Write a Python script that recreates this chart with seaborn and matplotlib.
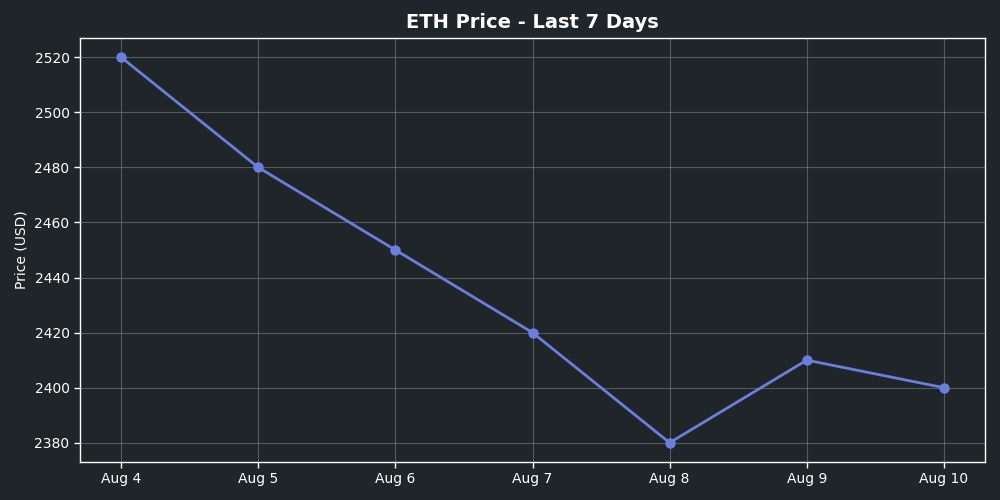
import matplotlib
matplotlib.use("Agg")
import matplotlib.pyplot as plt
import seaborn as sns
import pandas as pd

dates = ["Aug 4", "Aug 5", "Aug 6", "Aug 7", "Aug 8", "Aug 9", "Aug 10"]
prices = [2520, 2480, 2450, 2420, 2380, 2410, 2400]

bg = "#1f2529"
line_color = "#6a7fdb"

sns.set_theme(style="dark")
plt.rcParams["font.family"] = ["DejaVu Sans"]

df = pd.DataFrame({"Date": dates, "Price": prices})

fig = plt.figure(figsize=(10, 5), dpi=100, facecolor=bg)
ax = fig.add_axes([0.08, 0.076, 0.905, 0.848])
ax.set_facecolor(bg)

sns.lineplot(data=df, x="Date", y="Price", ax=ax, color=line_color,
             linewidth=2, marker="o", markersize=7.5, markeredgewidth=0,
             sort=False)

ax.grid(True, color="#8a9096", alpha=0.5, linewidth=0.8)
ax.set_axisbelow(True)
for s in ax.spines.values():
    s.set_color("white")
    s.set_linewidth(1)
ax.tick_params(colors="white", labelsize=10, length=4, width=1, bottom=True, left=True)
ax.set_xlabel("")
ax.set_ylabel("Price (USD)", color="white", fontsize=10)
ax.set_title("ETH Price - Last 7 Days", color="white", fontsize=14, fontweight="bold", pad=7)

fig.savefig("out.png", dpi=100, facecolor=bg)
